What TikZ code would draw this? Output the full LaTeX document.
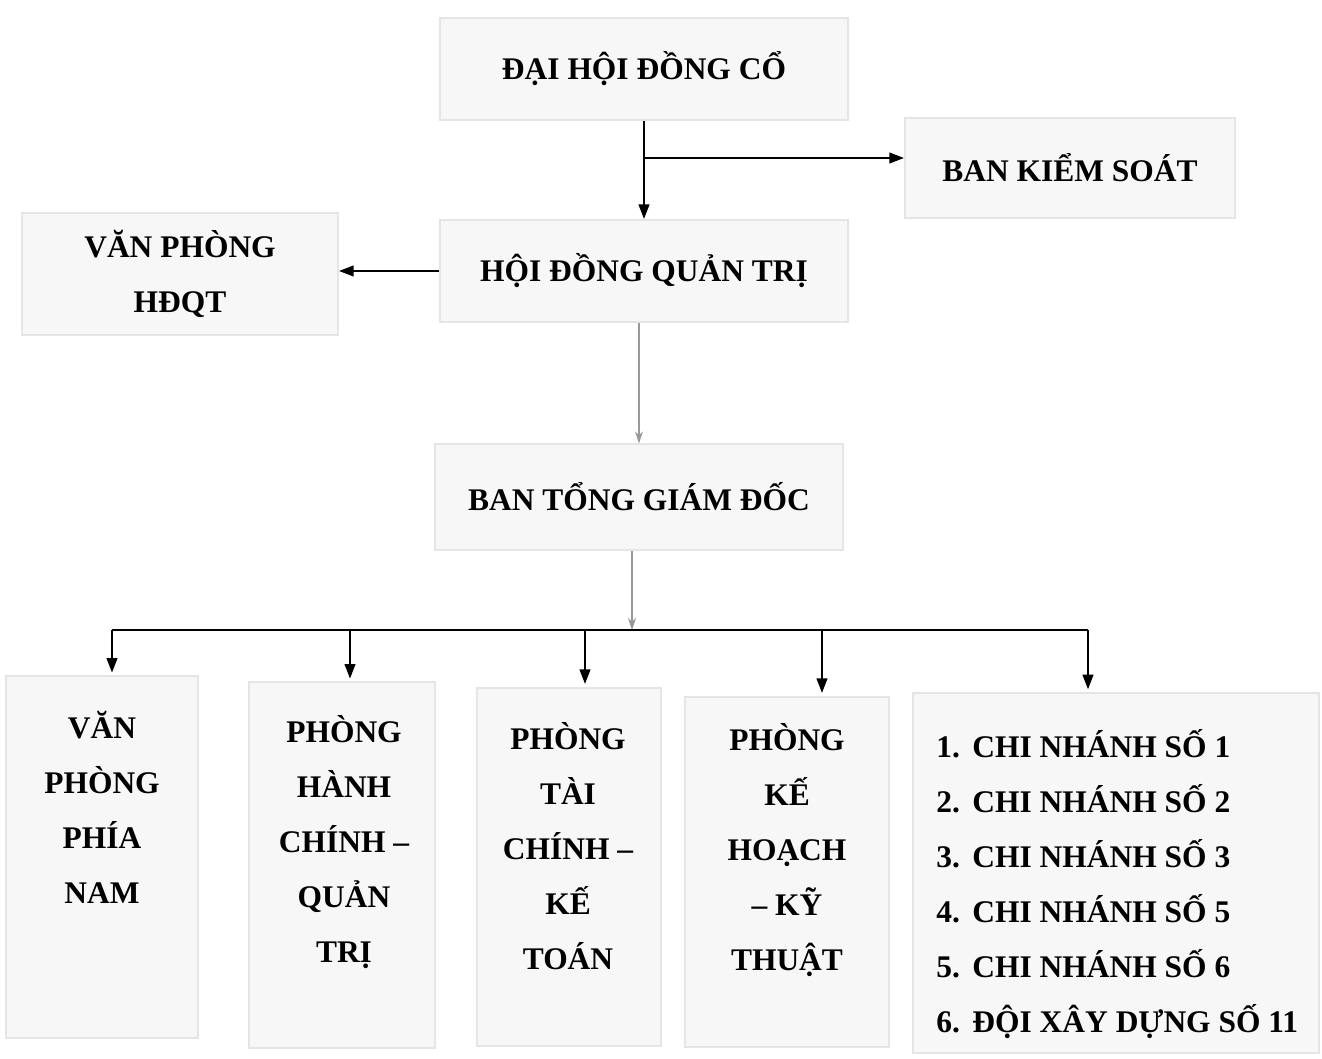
\documentclass[tikz,border=0pt]{standalone}
\usepackage{fontspec}
\setmainfont{Liberation Serif}
\usetikzlibrary{arrows.meta}
\begin{document}
\begin{tikzpicture}[x=0.75pt,y=-0.75pt,
  boxst/.style={draw=black!10, line width=1.5pt, fill=black!3, inner sep=0pt},
  lbl/.style={font=\fontsize{23.6}{41.3}\selectfont\bfseries, align=center, inner sep=0pt},
  arr/.style={line width=1.6pt, -{Triangle[length=11pt,width=8pt]}},
  garr/.style={draw=black!40, line width=0.8pt, -{Stealth[length=9pt,width=6pt]}}]
\useasboundingbox (0,0) rectangle (1322,1059);
\fill[white] (0,0) rectangle (1322,1059);

% top boxes
\node[boxst, lbl, minimum width=306pt, minimum height=76.5pt] (dh) at (644,69) {ĐẠI HỘI ĐỒNG CỔ};
\node[boxst, lbl, minimum width=247.5pt, minimum height=75pt] (bks) at (1070,168) {BAN KIỂM SOÁT};
\node[boxst, lbl, minimum width=306pt, minimum height=76.5pt] (hd) at (644,271) {HỘI ĐỒNG QUẢN TRỊ};
\node[boxst, lbl, minimum width=237pt, minimum height=92pt] (vp) at (180,274) {VĂN PHÒNG\\HĐQT};
\node[boxst, lbl, minimum width=306pt, minimum height=79pt] (bt) at (639,497) {BAN TỔNG GIÁM ĐỐC};

% bottom boxes
\node[boxst, minimum width=144pt, minimum height=271pt] (b1) at (102,857) {};
\node[boxst, minimum width=140pt, minimum height=274pt] (b2) at (342,865) {};
\node[boxst, minimum width=138pt, minimum height=269pt] (b3) at (569,867) {};
\node[boxst, minimum width=153pt, minimum height=263pt] (b4) at (787,872) {};
\node[boxst, minimum width=304.5pt, minimum height=270pt] (b5) at (1116,873) {};

\node[lbl] (t1) at (102,807) {VĂN\\PHÒNG\\PHÍA\\NAM};
\node[lbl] (t2) at (344,842) {PHÒNG\\HÀNH\\CHÍNH –\\QUẢN\\TRỊ};
\node[lbl] (t3) at (568,846) {PHÒNG\\TÀI\\CHÍNH –\\KẾ\\TOÁN};
\node[lbl] (t4) at (787,850) {PHÒNG\\KẾ\\HOẠCH\\– KỸ\\THUẬT};
\node[lbl, align=left, anchor=west] (t5) at (936,884) {1.\hspace{0.4em}CHI NHÁNH SỐ 1\\2.\hspace{0.4em}CHI NHÁNH SỐ 2\\3.\hspace{0.4em}CHI NHÁNH SỐ 3\\4.\hspace{0.4em}CHI NHÁNH SỐ 5\\5.\hspace{0.4em}CHI NHÁNH SỐ 6\\6.\hspace{0.4em}ĐỘI XÂY DỰNG SỐ 11};

% connectors
\draw[arr] (dh.south) -- (hd.north);
\coordinate (jk) at (644,158);
\draw[arr] (jk) -- (jk -| bks.west);
\draw[arr] (hd.west) -- (hd.west -| vp.east);
\draw[garr] (bt.north |- hd.south) -- (bt.north);

\coordinate (bar) at (632,630);
\draw[garr] (bt.south -| bar) -- (bar);

\coordinate (c1) at (112,630);
\coordinate (c2) at (350,630);
\coordinate (c3) at (585,630);
\coordinate (c4) at (822,630);
\coordinate (c5) at (1088,630);
\draw[line width=1.6pt] (c1) -- (c5);
\draw[arr, shorten >=2pt] (c1) -- (c1 |- b1.north);
\draw[arr, shorten >=2pt] (c2) -- (c2 |- b2.north);
\draw[arr, shorten >=2pt] (c3) -- (c3 |- b3.north);
\draw[arr, shorten >=2pt] (c4) -- (c4 |- b4.north);
\draw[arr, shorten >=2pt] (c5) -- (c5 |- b5.north);
\end{tikzpicture}
\end{document}
